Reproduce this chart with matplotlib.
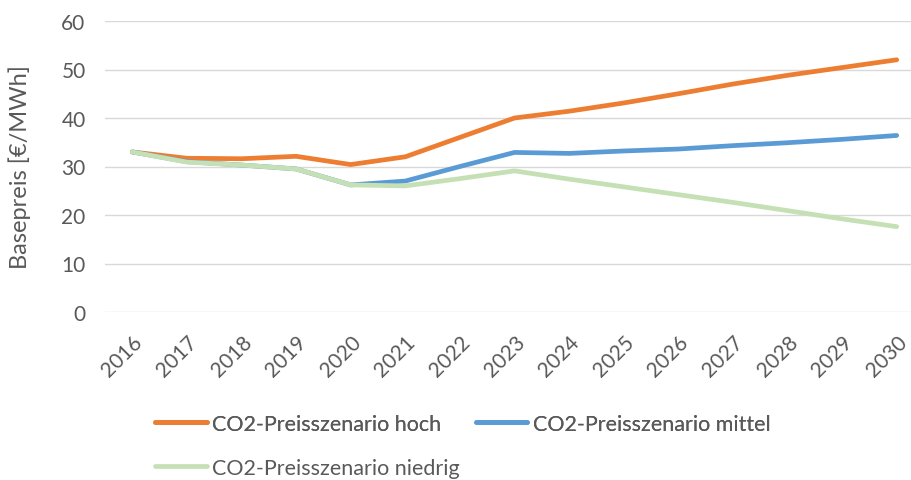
import matplotlib
matplotlib.use("Agg")
import matplotlib.pyplot as plt

years = [str(y) for y in range(2016, 2031)]
hoch = [33.0, 31.7, 31.6, 32.1, 30.4, 32.0, 36.0, 40.0, 41.4, 43.1, 45.0, 47.0, 48.8, 50.4, 52.0]
mittel = [33.0, 31.0, 30.3, 29.5, 26.2, 27.0, 30.0, 32.9, 32.7, 33.2, 33.6, 34.3, 34.9, 35.6, 36.4]
niedrig = [33.0, 30.9, 30.3, 29.5, 26.2, 26.0, 27.5, 29.1, 27.4, 25.8, 24.2, 22.6, 20.9, 19.2, 17.6]
labels = ["CO2-Preisszenario hoch", "CO2-Preisszenario mittel", "CO2-Preisszenario niedrig"]
colors = ["#ED7D31", "#5B9BD5", "#C5E0B4"]

plt.rcParams["font.family"] = ["Lato", "DejaVu Sans"]
grey = "#595959"

fig = plt.figure(figsize=(9.12, 4.81), dpi=100)
ax = fig.add_axes([105 / 912, 1 - 313 / 481, 819 / 912, 291 / 481])

x = range(len(years))
lines = []
for vals, lab, c in zip([hoch, mittel, niedrig], labels, colors):
    ln, = ax.plot(x, vals, color=c, lw=3.4, label=lab, solid_capstyle="round",
                  solid_joinstyle="round")
    lines.append(ln)

ax.set_xlim(-0.5, len(years) - 0.5)
ax.set_ylim(0, 60)
ax.set_yticks(range(0, 61, 10))
ax.set_xticks(list(x))
ax.set_xticklabels(years, rotation=45, ha="right", rotation_mode="anchor")
ax.tick_params(axis="both", length=0, labelsize=15, labelcolor=grey)
ax.tick_params(axis="x", pad=14)
ax.tick_params(axis="y", pad=14)
ax.grid(axis="y", color="#D9D9D9", lw=1)
ax.set_axisbelow(True)
for s in ax.spines.values():
    s.set_visible(False)
ax.set_ylabel("Basepreis [€/MWh]", fontsize=17, color=grey, labelpad=22)

leg_kw = dict(frameon=False, fontsize=15.5, labelcolor=grey, handlelength=2.4,
              handletextpad=0.25, borderaxespad=0, borderpad=0)
leg1 = fig.legend(lines[:2], labels[:2], loc="center left", bbox_to_anchor=(155 / 912, 1 - 425 / 481),
                  ncol=2, columnspacing=1.6, **leg_kw)
fig.add_artist(leg1)
fig.legend([lines[2]], [labels[2]], loc="center left", bbox_to_anchor=(155 / 912, 1 - 469 / 481),
           **leg_kw)

fig.savefig("out.png", dpi=100)
